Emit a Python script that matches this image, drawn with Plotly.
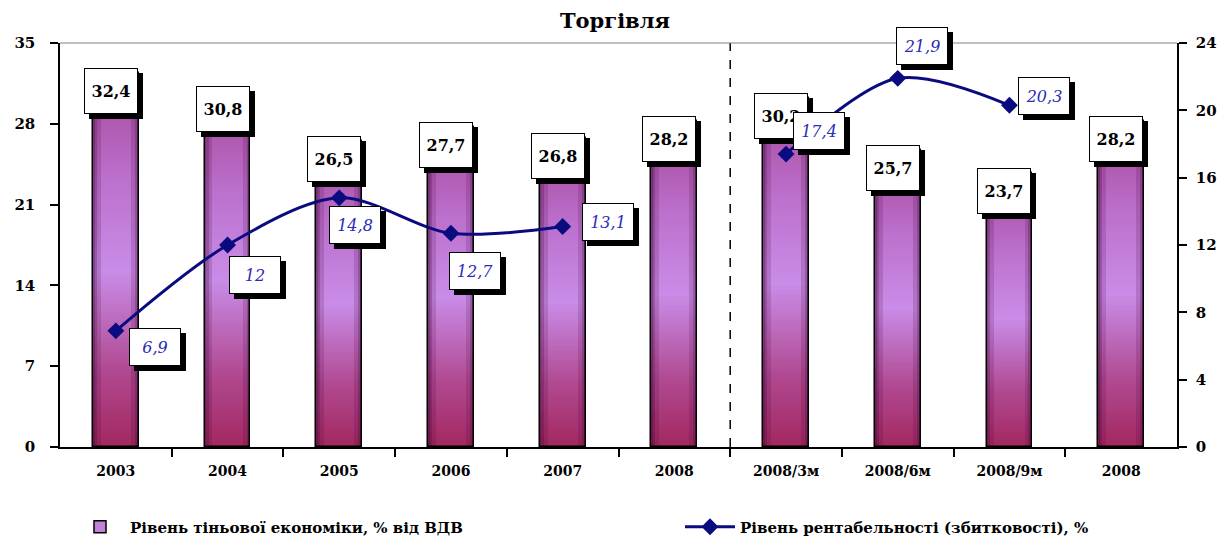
import plotly.graph_objects as go

# ---------------- data ----------------
categories = ["2003", "2004", "2005", "2006", "2007", "2008",
              "2008/3м", "2008/6м", "2008/9м", "2008"]
shadow_economy = [32.4, 30.8, 26.5, 27.7, 26.8, 28.2, 30.2, 25.7, 23.7, 28.2]
profitability = [6.9, 12, 14.8, 12.7, 13.1, None, 17.4, 21.9, 20.3, None]
divider_after = 5  # dashed line after the first "2008"

left_ticks = [0, 7, 14, 21, 28, 35]
right_ticks = [0, 4, 8, 12, 16, 20, 24]

bar_name = "Рівень тіньової економіки, % від ВДВ"
line_name = "Рівень рентабельності (збитковості), %"
title_text = "Торгівля"

# label offsets (pixels) for the line labels – styling only
line_label_dx = [39, 27, 16, 24, 45, None, 33, 24, 35, None]
line_label_dy = [16, 30, 27, 38, -4, None, -23, -32, -9, None]

# ---------------- styling helpers ----------------
SERIF = "DejaVu Serif"
BAR_W = 0.41
BODY = 8  # default page margin around the figure
x_idx = list(range(len(categories)))


def fmt(v):
    s = ("%.1f" % v).rstrip("0").rstrip(".")
    return s.replace(".", ",")


def hex2rgb(h):
    h = h.lstrip("#")
    return tuple(int(h[i:i + 2], 16) for i in (0, 2, 4))


stops = [(0.0, "#a3285f"), (0.2, "#b04890"), (0.47, "#c98ce8"),
         (0.72, "#bb70cc"), (1.0, "#a8469a")]


def grad(f):
    for (f0, c0), (f1, c1) in zip(stops[:-1], stops[1:]):
        if f0 <= f <= f1:
            t = (f - f0) / (f1 - f0)
            a, b = hex2rgb(c0), hex2rgb(c1)
            r = [round(a[i] + (b[i] - a[i]) * t) for i in range(3)]
            return "rgb(%d,%d,%d)" % tuple(r)
    return stops[-1][1]


fig = go.Figure()

# vertical gradient: nested bars from full height down, each shorter one on top
N = 110
for k in range(N):
    frac = 1 - k / N
    fig.add_trace(go.Bar(
        x=x_idx, y=[v * frac for v in shadow_economy],
        width=BAR_W, marker=dict(color=grad(frac - 0.5 / N), line=dict(width=0)),
        showlegend=False, hoverinfo="skip"))

# horizontal shading at bar edges
for w, a in [(0.07, 0.16), (0.035, 0.22), (0.015, 0.25)]:
    for off in (-BAR_W / 2, BAR_W / 2 - w):
        fig.add_trace(go.Bar(
            x=x_idx, y=shadow_economy, width=w, offset=off,
            marker=dict(color="rgba(60,0,50,%.2f)" % a, line=dict(width=0)),
            showlegend=False, hoverinfo="skip"))

# outline
fig.add_trace(go.Bar(
    x=x_idx, y=shadow_economy, width=BAR_W,
    marker=dict(color="rgba(0,0,0,0)", line=dict(color="black", width=1.5)),
    showlegend=False, hoverinfo="skip"))

# legend entry for bars
fig.add_trace(go.Bar(
    x=[None], y=[None], name=bar_name, legend="legend",
    marker=dict(color="#c282d8", line=dict(color="black", width=1.5))))

# profitability line
fig.add_trace(go.Scatter(
    x=x_idx, y=profitability, yaxis="y2", name=line_name, legend="legend2",
    mode="lines+markers", connectgaps=False,
    line=dict(color="#0b0b80", width=3, shape="spline", smoothing=0.9),
    marker=dict(symbol="diamond", size=13, color="#0b0b80"),
    hoverinfo="skip"))

ann = []
# bar value labels
for i, v in enumerate(shadow_economy):
    common = dict(x=i, y=v, xref="x", yref="y", xanchor="center", yanchor="top",
                  showarrow=False, width=50, height=42, borderpad=1, borderwidth=1)
    ann.append(dict(common, text=" ", xshift=0, yshift=0,
                    bgcolor="black", bordercolor="black",
                    font=dict(family=SERIF, size=16, color="black")))
    ann.append(dict(common, text="<b>%s</b>" % fmt(v), xshift=-5, yshift=5,
                    bgcolor="white", bordercolor="black",
                    font=dict(family=SERIF, size=16, color="black")))

# line value labels
for i, v in enumerate(profitability):
    if v is None:
        continue
    dx, dy = line_label_dx[i], line_label_dy[i]
    common = dict(x=i, y=v, xref="x", yref="y2", xanchor="center", yanchor="middle",
                  showarrow=False, width=48, height=34, borderpad=1, borderwidth=1)
    ann.append(dict(common, text=" ", xshift=dx + 5, yshift=-dy - 5,
                    bgcolor="black", bordercolor="black",
                    font=dict(family=SERIF, size=16, color="black")))
    ann.append(dict(common, text="<i>%s</i>" % fmt(v), xshift=dx, yshift=-dy,
                    bgcolor="white", bordercolor="black",
                    font=dict(family=SERIF, size=16, color="#2b2bb8")))

shapes = [
    dict(type="line", xref="x", yref="paper", x0=divider_after + 0.5,
         x1=divider_after + 0.5, y0=0, y1=1,
         line=dict(color="black", width=1.5, dash="dash")),
    dict(type="line", xref="paper", yref="paper", x0=0, x1=1, y0=1, y1=1,
         line=dict(color="#808080", width=1)),
]

W, H = 1231, 547
legend_font = dict(family=SERIF, size=15, color="black", weight="bold")

fig.update_layout(
    width=W, height=H,
    margin=dict(l=60 - BODY, r=54 + BODY, t=43 - BODY, b=100 + BODY, autoexpand=False),
    paper_bgcolor="white", plot_bgcolor="white",
    barmode="overlay", bargap=0,
    hovermode=False,
    title=dict(text="<b>%s</b>" % title_text, x=(615 - BODY) / W, xref="container",
               xanchor="center",
               y=1 - (21 - BODY) / H, yref="container", yanchor="middle",
               font=dict(family=SERIF, size=21, color="black")),
    xaxis=dict(range=[-0.5, len(categories) - 0.5], tickmode="array",
               tickvals=x_idx, ticktext=categories, ticks="",
               showgrid=False, zeroline=False,
               showline=True, linecolor="black", linewidth=1.5,
               tickfont=dict(family=SERIF, size=14, color="black", weight="bold"),
               ticklabelstandoff=10,
               minor=dict(tickmode="array",
                          tickvals=[i + 0.5 for i in x_idx[:-1]],
                          ticks="outside", ticklen=8, tickwidth=1.5,
                          tickcolor="black", showgrid=False)),
    yaxis=dict(range=[0, 35], tickmode="array", tickvals=left_ticks,
               ticks="outside", ticklen=8, tickwidth=1.5, tickcolor="black",
               showgrid=False, zeroline=False,
               showline=True, linecolor="black", linewidth=1.5,
               ticklabelstandoff=12,
               tickfont=dict(family=SERIF, size=15, color="black", weight="bold")),
    yaxis2=dict(range=[0, 24], tickmode="array", tickvals=right_ticks,
                overlaying="y", side="right",
                ticks="outside", ticklen=8, tickwidth=1.5, tickcolor="black",
                showgrid=False, zeroline=False,
                showline=True, linecolor="black", linewidth=1.5,
                ticklabelstandoff=6,
                tickfont=dict(family=SERIF, size=15, color="black", weight="bold")),
    legend=dict(orientation="h", xref="container", yref="container",
                x=(70 - BODY) / W, y=1 - (527 - BODY) / H, xanchor="left",
                yanchor="middle", itemwidth=50,
                font=legend_font, bgcolor="rgba(0,0,0,0)"),
    legend2=dict(orientation="h", xref="container", yref="container",
                 x=(680 - BODY) / W, y=1 - (527 - BODY) / H, xanchor="left",
                 yanchor="middle", itemwidth=50,
                 font=legend_font, bgcolor="rgba(0,0,0,0)"),
    annotations=ann, shapes=shapes,
)

fig.write_html("out.html")
